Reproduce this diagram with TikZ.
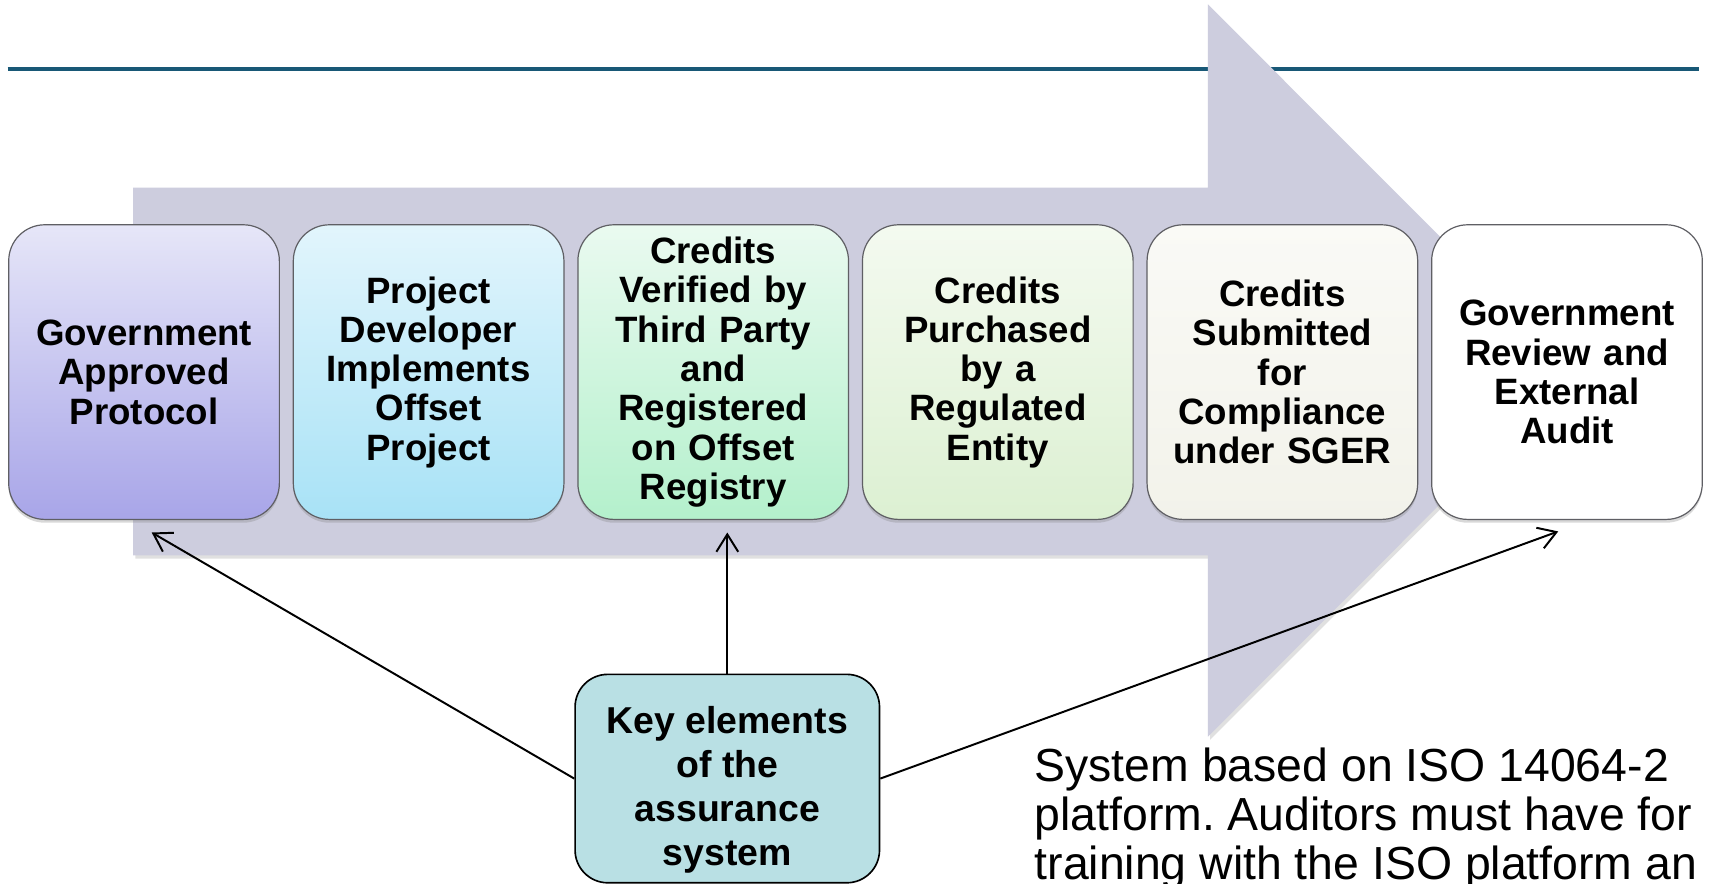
\documentclass[tikz,border=0pt]{standalone}
\usepackage{fontspec}
\setmainfont{Liberation Sans}
\usetikzlibrary{arrows.meta,shadows}
\frenchspacing
\definecolor{arrowfill}{RGB}{205,205,222}
\definecolor{topline}{RGB}{24,88,118}
\definecolor{boxline}{RGB}{95,95,100}
\definecolor{keyfill}{RGB}{185,224,228}
\definecolor{aTop}{RGB}{230,230,248}\definecolor{aBot}{RGB}{168,165,232}
\definecolor{bTop}{RGB}{226,245,252}\definecolor{bBot}{RGB}{168,226,246}
\definecolor{cTop}{RGB}{234,250,240}\definecolor{cBot}{RGB}{180,240,204}
\definecolor{dTop}{RGB}{244,250,240}\definecolor{dBot}{RGB}{220,240,210}
\definecolor{eTop}{RGB}{250,250,246}\definecolor{eBot}{RGB}{242,242,234}
\begin{document}
\begin{tikzpicture}[x=1pt,y=-1pt,
  stepbox/.style={draw=boxline, line width=1.1pt, rounded corners=33pt,
    minimum width=248pt, minimum height=270pt, text width=240pt, inner xsep=4pt, inner ysep=0pt,
    align=center, font=\fontsize{33.6}{36}\selectfont\bfseries,
    drop shadow={shadow xshift=0pt, shadow yshift=-3pt, opacity=0.3}},
  keybox/.style={draw=black, line width=1.5pt, rounded corners=30pt, fill=keyfill,
    minimum width=279pt, minimum height=191pt, inner sep=0pt},
  keytext/.style={align=center, inner sep=0pt, font=\fontsize{34.3}{40.5}\selectfont\bfseries},
  conn/.style={line width=1.8pt, -{Straight Barb[length=16pt,width=20pt]}},
  note/.style={align=left, inner sep=0pt, font=\fontsize{42.5}{45}\selectfont}]
\useasboundingbox (0,0) rectangle (1568,810);
\fill[white] (0,0) rectangle (1568,810);
% top rule
\draw[topline, line width=3.5pt] (7,63) -- (1557,63);
% big arrow (shadow then body)
\fill[black, opacity=0.12] (124,175) -- (1109,175) -- (1109,7) -- (1444,342.5) -- (1109,678) -- (1109,512) -- (124,512) -- cycle;
\fill[arrowfill] (122,172) -- (1107,172) -- (1107,4) -- (1442,339.5) -- (1107,675) -- (1107,509) -- (122,509) -- cycle;
% step boxes
\node[stepbox, top color=aTop, bottom color=aBot] (b1) at (132,341) {Government\\Approved\\Protocol};
\node[stepbox, top color=bTop, bottom color=bBot] (b2) at (392.8,341) {Project\\Developer\\Implements\\Offset\\Project};
\node[stepbox, top color=cTop, bottom color=cBot] (b3) at (653.6,341) {Credits\\Verified by\\Third Party\\and\\Registered\\on Offset\\Registry};
\node[stepbox, top color=dTop, bottom color=dBot] (b4) at (914.4,341) {Credits\\Purchased\\by a\\Regulated\\Entity};
\node[stepbox, top color=eTop, bottom color=eBot] (b5) at (1175.2,341) {Credits\\Submitted\\for\\Compliance\\under SGER};
\node[stepbox, fill=white] (b6) at (1436,341) {Government\\Review and\\External\\Audit};
% key box
\node[keybox] (key) at (666.5,713.5) {};
\node[keytext, anchor=north] (keylbl) at (666.5,647) {Key elements\\of the\\assurance\\system};
% connector targets
\coordinate (t1) at (139,488);
\coordinate (t3) at (666.5,488);
\coordinate (t6) at (1428,487);
\draw[conn] (key.west) -- (t1);
\draw[conn] (key.north) -- (t3);
\draw[conn] (key.east) -- (t6);
% note text
\node[note, anchor=north west] (txt) at (948,685) {System based on ISO 14064-2\\platform. Auditors must have for\\training with the ISO platform an};
\end{tikzpicture}
\end{document}
